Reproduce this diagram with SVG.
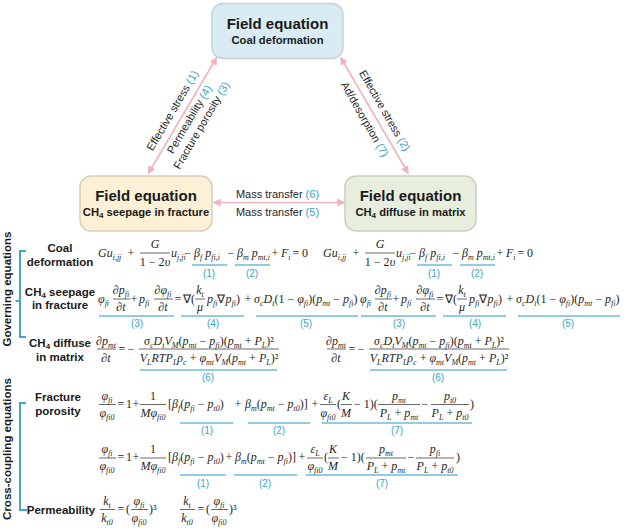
<svg xmlns="http://www.w3.org/2000/svg" width="624" height="529" viewBox="0 0 624 529">
<defs>
<style>
.nt{font-family:"Liberation Sans",Arial,sans-serif;font-weight:bold;fill:#1a1a1a;text-anchor:middle}
.t1{font-size:15px}
.t2{font-size:11.2px}
.lb{font-family:"Liberation Sans",Arial,sans-serif;font-size:11px;fill:#262626;text-anchor:middle}
.tl{fill:#3ba3c6}
.hd{font-family:"Liberation Sans",Arial,sans-serif;font-weight:bold;font-size:11.5px;fill:#1a1a1a;text-anchor:middle}
.vt{font-family:"Liberation Sans",Arial,sans-serif;font-weight:bold;font-size:11.5px;fill:#1a1a1a;text-anchor:middle}
.eq{font-family:"Liberation Serif","Times New Roman",serif;font-size:12px;font-style:italic;fill:#1f1f1f}
.c{text-anchor:middle}
.u{font-style:normal}
.sb{font-size:8px}
.bar{stroke:#2a2a2a;stroke-width:0.7}
.ul{stroke:#6cbcd8;stroke-width:1.3}
.num{font-family:"Liberation Sans",Arial,sans-serif;font-size:10px;fill:#3ba3c6;text-anchor:middle}
.con{stroke:#f2b3bd;stroke-width:1.6;fill:none;marker-start:url(#ah);marker-end:url(#ah)}
.brk{stroke:#45a6c8;stroke-width:2;fill:none}
</style>
<marker id="ah" viewBox="0 0 10 10" refX="9" refY="5" markerWidth="5" markerHeight="5" orient="auto-start-reverse"><path d="M0,0 L10,5 L0,10 z" fill="#f2b3bd"/></marker>
</defs>
<rect width="624" height="529" fill="#ffffff"/>

<g id="connectors">
<line class="con" x1="216.7" y1="57.5" x2="148.3" y2="173.5"/>
<line class="con" x1="340.7" y1="57.5" x2="408.3" y2="173.5"/>
<line class="con" x1="213.5" y1="202.5" x2="344.5" y2="202.5"/>
<g transform="translate(182.5,116.5) rotate(-59.5)">
<text class="lb" x="0" y="-8">Effective stress <tspan class="tl">(1)</tspan></text>
<text class="lb" x="1" y="11">Permeability <tspan class="tl">(4)</tspan></text>
<text class="lb" x="2" y="24.5">Fracture porosity <tspan class="tl">(3)</tspan></text>
</g>
<g transform="translate(374.5,116.5) rotate(60.2)">
<text class="lb" x="0" y="-8">Effective stress <tspan class="tl">(2)</tspan></text>
<text class="lb" x="-2.5" y="13.5">Ad/desorption <tspan class="tl">(7)</tspan></text>
</g>
<text class="lb" x="277.5" y="198">Mass transfer <tspan class="tl">(6)</tspan></text>
<text class="lb" x="277.5" y="216">Mass transfer <tspan class="tl">(5)</tspan></text>
</g>

<g id="node-coal">
<rect x="212" y="3.5" width="131" height="55" rx="11" fill="#d9ecf3" stroke="#c7d2d7" stroke-width="1.5"/>
<text class="nt t1" x="277.5" y="29">Field equation</text>
<text class="nt t2" x="277.5" y="44">Coal deformation</text>
</g>
<g id="node-fracture">
<rect x="80" y="176" width="132" height="55" rx="11" fill="#fcf1d6" stroke="#d8cfb8" stroke-width="1.5"/>
<text class="nt t1" x="146" y="201">Field equation</text>
<text class="nt t2" x="146" y="216">CH<tspan font-size="8px" dy="2">4</tspan><tspan dy="-2"> seepage in fracture</tspan></text>
</g>
<g id="node-matrix">
<rect x="345" y="176" width="131" height="55" rx="11" fill="#e8eedd" stroke="#c9cfc0" stroke-width="1.5"/>
<text class="nt t1" x="410.5" y="201">Field equation</text>
<text class="nt t2" x="410.5" y="216">CH<tspan font-size="8px" dy="2">4</tspan><tspan dy="-2"> diffuse in matrix</tspan></text>
</g>

<g id="side-labels">
<text class="vt" transform="translate(11,289) rotate(-90)">Governing equations</text>
<text class="vt" transform="translate(11,449) rotate(-90)">Cross-coupling equations</text>
<path class="brk" d="M26,251 H20 V337 H26 M15.5,301 H20"/>
<path class="brk" d="M26,403 H20 V510 H27"/>
<text class="hd" x="60" y="252">Coal</text>
<text class="hd" x="60" y="266">deformation</text>
<text class="hd" x="60" y="296">CH<tspan font-size="8px" dy="2">4</tspan><tspan dy="-2"> seepage</tspan></text>
<text class="hd" x="60" y="309">in fracture</text>
<text class="hd" x="60" y="347">CH<tspan font-size="8px" dy="2">4</tspan><tspan dy="-2"> diffuse</tspan></text>
<text class="hd" x="60" y="361">in matrix</text>
<text class="hd" x="58" y="401">Fracture</text>
<text class="hd" x="58" y="415">porosity</text>
<text class="hd" x="61" y="514">Permeability</text>
</g>

<g id="eq-coal">
<g id="eq1a">
<text class="eq" x="98" y="257">Gu<tspan class="sb" dy="3">i,jj</tspan></text>
<text class="eq u c" x="131" y="257">+</text>
<text class="eq c" x="155" y="248">G</text>
<line class="bar" x1="140" y1="253" x2="170" y2="253"/>
<text class="eq c" x="155" y="266"><tspan class="u">1 − 2</tspan>υ</text>
<text class="eq" x="171" y="257">u<tspan class="sb" dy="3">j,ji</tspan></text>
<text class="eq u c" x="188" y="257">−</text>
<text class="eq" x="194" y="257">β<tspan class="sb" dy="3">f</tspan><tspan dy="-3"> p</tspan><tspan class="sb" dy="3">fi,i</tspan></text>
<text class="eq u c" x="231" y="257">−</text>
<text class="eq" x="237" y="257">β<tspan class="sb" dy="3">m</tspan><tspan dy="-3"> p</tspan><tspan class="sb" dy="3">mt,i</tspan></text>
<text class="eq u c" x="275" y="257">+</text>
<text class="eq" x="281" y="257">F<tspan class="sb" dy="3">i</tspan></text>
<text class="eq u c" x="296" y="257">=</text>
<text class="eq u c" x="305" y="257">0</text>
<line class="ul" x1="192" y1="265" x2="227" y2="265"/>
<text class="num" x="209" y="277">(1)</text>
<line class="ul" x1="235" y1="265" x2="270" y2="265"/>
<text class="num" x="252" y="277">(2)</text>
</g>
<g id="eq1b" transform="translate(225,0)">
<text class="eq" x="98" y="257">Gu<tspan class="sb" dy="3">i,jj</tspan></text>
<text class="eq u c" x="131" y="257">+</text>
<text class="eq c" x="155" y="248">G</text>
<line class="bar" x1="140" y1="253" x2="170" y2="253"/>
<text class="eq c" x="155" y="266"><tspan class="u">1 − 2</tspan>υ</text>
<text class="eq" x="171" y="257">u<tspan class="sb" dy="3">j,ji</tspan></text>
<text class="eq u c" x="188" y="257">−</text>
<text class="eq" x="194" y="257">β<tspan class="sb" dy="3">f</tspan><tspan dy="-3"> p</tspan><tspan class="sb" dy="3">fi,i</tspan></text>
<text class="eq u c" x="231" y="257">−</text>
<text class="eq" x="237" y="257">β<tspan class="sb" dy="3">m</tspan><tspan dy="-3"> p</tspan><tspan class="sb" dy="3">mt,i</tspan></text>
<text class="eq u c" x="275" y="257">+</text>
<text class="eq" x="281" y="257">F<tspan class="sb" dy="3">i</tspan></text>
<text class="eq u c" x="296" y="257">=</text>
<text class="eq u c" x="305" y="257">0</text>
<line class="ul" x1="192" y1="265" x2="227" y2="265"/>
<text class="num" x="209" y="277">(1)</text>
<line class="ul" x1="235" y1="265" x2="270" y2="265"/>
<text class="num" x="252" y="277">(2)</text>
</g>
</g>

<g id="eq-seepage">
<g id="eq2a">
<text class="eq" x="98" y="303">φ<tspan class="sb" dy="3">fi</tspan></text>
<text class="eq c" x="121" y="294">∂p<tspan class="sb" dy="3">fi</tspan></text>
<line class="bar" x1="113" y1="299" x2="130" y2="299"/>
<text class="eq c" x="121" y="311">∂t</text>
<text class="eq u c" x="134" y="303">+</text>
<text class="eq" x="139" y="303">p<tspan class="sb" dy="3">fi</tspan></text>
<text class="eq c" x="163" y="294">∂φ<tspan class="sb" dy="3">fi</tspan></text>
<line class="bar" x1="154" y1="299" x2="173" y2="299"/>
<text class="eq c" x="163" y="311">∂t</text>
<text class="eq u c" x="178" y="303">=</text>
<text class="eq u" x="183" y="303">∇(</text>
<text class="eq c" x="200" y="294">k<tspan class="sb" dy="3">t</tspan></text>
<line class="bar" x1="195" y1="299" x2="205" y2="299"/>
<text class="eq c" x="200" y="311">μ</text>
<text class="eq" x="207" y="303">p<tspan class="sb" dy="3">fi</tspan><tspan class="u" dy="-3">∇</tspan>p<tspan class="sb" dy="3">fi</tspan><tspan class="u" dy="-3">)</tspan></text>
<text class="eq u c" x="248" y="303">+</text>
<text class="eq" x="254" y="303">σ<tspan class="sb" dy="3">c</tspan><tspan dy="-3">D</tspan><tspan class="sb" dy="3">t</tspan><tspan class="u" dy="-3">(1 − </tspan>φ<tspan class="sb" dy="3">fi</tspan><tspan class="u" dy="-3">)(</tspan>p<tspan class="sb" dy="3">mt</tspan><tspan class="u" dy="-3"> − </tspan>p<tspan class="sb" dy="3">fi</tspan><tspan class="u" dy="-3">)</tspan></text>
<line class="ul" x1="99" y1="316" x2="174" y2="316"/>
<text class="num" x="137" y="327">(3)</text>
<line class="ul" x1="181" y1="316" x2="244" y2="316"/>
<text class="num" x="213" y="327">(4)</text>
<line class="ul" x1="256" y1="316" x2="358" y2="316"/>
<text class="num" x="306" y="327">(5)</text>
</g>
<g id="eq2b" transform="translate(262,0)">
<text class="eq" x="98" y="303">φ<tspan class="sb" dy="3">fi</tspan></text>
<text class="eq c" x="121" y="294">∂p<tspan class="sb" dy="3">fi</tspan></text>
<line class="bar" x1="113" y1="299" x2="130" y2="299"/>
<text class="eq c" x="121" y="311">∂t</text>
<text class="eq u c" x="134" y="303">+</text>
<text class="eq" x="139" y="303">p<tspan class="sb" dy="3">fi</tspan></text>
<text class="eq c" x="163" y="294">∂φ<tspan class="sb" dy="3">fi</tspan></text>
<line class="bar" x1="154" y1="299" x2="173" y2="299"/>
<text class="eq c" x="163" y="311">∂t</text>
<text class="eq u c" x="178" y="303">=</text>
<text class="eq u" x="183" y="303">∇(</text>
<text class="eq c" x="200" y="294">k<tspan class="sb" dy="3">t</tspan></text>
<line class="bar" x1="195" y1="299" x2="205" y2="299"/>
<text class="eq c" x="200" y="311">μ</text>
<text class="eq" x="207" y="303">p<tspan class="sb" dy="3">fi</tspan><tspan class="u" dy="-3">∇</tspan>p<tspan class="sb" dy="3">fi</tspan><tspan class="u" dy="-3">)</tspan></text>
<text class="eq u c" x="248" y="303">+</text>
<text class="eq" x="254" y="303">σ<tspan class="sb" dy="3">c</tspan><tspan dy="-3">D</tspan><tspan class="sb" dy="3">t</tspan><tspan class="u" dy="-3">(1 − </tspan>φ<tspan class="sb" dy="3">fi</tspan><tspan class="u" dy="-3">)(</tspan>p<tspan class="sb" dy="3">mt</tspan><tspan class="u" dy="-3"> − </tspan>p<tspan class="sb" dy="3">fi</tspan><tspan class="u" dy="-3">)</tspan></text>
<line class="ul" x1="99" y1="316" x2="174" y2="316"/>
<text class="num" x="137" y="327">(3)</text>
<line class="ul" x1="181" y1="316" x2="244" y2="316"/>
<text class="num" x="213" y="327">(4)</text>
<line class="ul" x1="256" y1="316" x2="358" y2="316"/>
<text class="num" x="306" y="327">(5)</text>
</g>
</g>

<g id="eq-diffuse">
<g id="eq3a">
<text class="eq c" x="106" y="345">∂p<tspan class="sb" dy="3">mt</tspan></text>
<line class="bar" x1="97" y1="349" x2="116" y2="349"/>
<text class="eq c" x="106" y="362">∂t</text>
<text class="eq u c" x="122" y="353">=</text>
<text class="eq u c" x="131" y="353">−</text>
<text class="eq c" x="209" y="345">σ<tspan class="sb" dy="3">c</tspan><tspan dy="-3">D</tspan><tspan class="sb" dy="3">t</tspan><tspan dy="-3">V</tspan><tspan class="sb" dy="3">M</tspan><tspan class="u" dy="-3">(</tspan>p<tspan class="sb" dy="3">mt</tspan><tspan class="u" dy="-3"> − </tspan>p<tspan class="sb" dy="3">fi</tspan><tspan class="u" dy="-3">)(</tspan>p<tspan class="sb" dy="3">mt</tspan><tspan class="u" dy="-3"> + </tspan>P<tspan class="sb" dy="3">L</tspan><tspan class="u" dy="-3">)²</tspan></text>
<line class="bar" x1="139" y1="349" x2="279" y2="349"/>
<text class="eq c" x="209" y="362">V<tspan class="sb" dy="3">L</tspan><tspan dy="-3">RTP</tspan><tspan class="sb" dy="3">L</tspan><tspan dy="-3">ρ</tspan><tspan class="sb" dy="3">c</tspan><tspan class="u" dy="-3"> + </tspan>φ<tspan class="sb" dy="3">mt</tspan><tspan dy="-3">V</tspan><tspan class="sb" dy="3">M</tspan><tspan class="u" dy="-3">(</tspan>p<tspan class="sb" dy="3">mt</tspan><tspan class="u" dy="-3"> + </tspan>P<tspan class="sb" dy="3">L</tspan><tspan class="u" dy="-3">)²</tspan></text>
<line class="ul" x1="140" y1="370" x2="277" y2="370"/>
<text class="num" x="208" y="381">(6)</text>
</g>
<g id="eq3b" transform="translate(230,0)">
<text class="eq c" x="106" y="345">∂p<tspan class="sb" dy="3">mt</tspan></text>
<line class="bar" x1="97" y1="349" x2="116" y2="349"/>
<text class="eq c" x="106" y="362">∂t</text>
<text class="eq u c" x="122" y="353">=</text>
<text class="eq u c" x="131" y="353">−</text>
<text class="eq c" x="209" y="345">σ<tspan class="sb" dy="3">c</tspan><tspan dy="-3">D</tspan><tspan class="sb" dy="3">t</tspan><tspan dy="-3">V</tspan><tspan class="sb" dy="3">M</tspan><tspan class="u" dy="-3">(</tspan>p<tspan class="sb" dy="3">mt</tspan><tspan class="u" dy="-3"> − </tspan>p<tspan class="sb" dy="3">fi</tspan><tspan class="u" dy="-3">)(</tspan>p<tspan class="sb" dy="3">mt</tspan><tspan class="u" dy="-3"> + </tspan>P<tspan class="sb" dy="3">L</tspan><tspan class="u" dy="-3">)²</tspan></text>
<line class="bar" x1="139" y1="349" x2="279" y2="349"/>
<text class="eq c" x="209" y="362">V<tspan class="sb" dy="3">L</tspan><tspan dy="-3">RTP</tspan><tspan class="sb" dy="3">L</tspan><tspan dy="-3">ρ</tspan><tspan class="sb" dy="3">c</tspan><tspan class="u" dy="-3"> + </tspan>φ<tspan class="sb" dy="3">mt</tspan><tspan dy="-3">V</tspan><tspan class="sb" dy="3">M</tspan><tspan class="u" dy="-3">(</tspan>p<tspan class="sb" dy="3">mt</tspan><tspan class="u" dy="-3"> + </tspan>P<tspan class="sb" dy="3">L</tspan><tspan class="u" dy="-3">)²</tspan></text>
<line class="ul" x1="140" y1="370" x2="277" y2="370"/>
<text class="num" x="208" y="381">(6)</text>
</g>
</g>

<g id="eq-porosity">
<g id="eq4">
<text class="eq c" x="107" y="400">φ<tspan class="sb" dy="3">fi</tspan></text>
<line class="bar" x1="99" y1="404.5" x2="116" y2="404.5"/>
<text class="eq c" x="107" y="417">φ<tspan class="sb" dy="3">fi0</tspan></text>
<text class="eq u c" x="121" y="408">=</text>
<text class="eq u c" x="129" y="408">1</text>
<text class="eq u c" x="136" y="408">+</text>
<text class="eq u c" x="153" y="400">1</text>
<line class="bar" x1="140" y1="404.5" x2="166" y2="404.5"/>
<text class="eq c" x="153" y="417">Mφ<tspan class="sb" dy="3">fi0</tspan></text>
<text class="eq" x="168" y="408"><tspan class="u">[</tspan>β<tspan class="sb" dy="3">f</tspan><tspan class="u" dy="-3">(</tspan>p<tspan class="sb" dy="3">fi</tspan><tspan class="u" dy="-3"> − </tspan>p<tspan class="sb" dy="3">t0</tspan><tspan class="u" dy="-3">)</tspan></text>
<text class="eq u c" x="238" y="408">+</text>
<text class="eq" x="245" y="408">β<tspan class="sb" dy="3">m</tspan><tspan class="u" dy="-3">(</tspan>p<tspan class="sb" dy="3">mt</tspan><tspan class="u" dy="-3"> − </tspan>p<tspan class="sb" dy="3">t0</tspan><tspan class="u" dy="-3">)]</tspan></text>
<text class="eq u c" x="315" y="408">+</text>
<text class="eq c" x="328" y="400">ε<tspan class="sb" dy="3">L</tspan></text>
<line class="bar" x1="320" y1="404.5" x2="336" y2="404.5"/>
<text class="eq c" x="328" y="417">φ<tspan class="sb" dy="3">fi0</tspan></text>
<text class="eq u" x="337" y="408">(</text>
<text class="eq c" x="346" y="400">K</text>
<line class="bar" x1="341" y1="404.5" x2="352" y2="404.5"/>
<text class="eq c" x="346" y="417">M</text>
<text class="eq u" x="354" y="408"> − 1)(</text>
<text class="eq c" x="399" y="400">p<tspan class="sb" dy="3">mt</tspan></text>
<line class="bar" x1="378" y1="404.5" x2="420" y2="404.5"/>
<text class="eq c" x="399" y="417">P<tspan class="sb" dy="3">L</tspan><tspan class="u" dy="-3"> + </tspan>p<tspan class="sb" dy="3">mt</tspan></text>
<text class="eq u c" x="425" y="408">−</text>
<text class="eq c" x="450" y="400">p<tspan class="sb" dy="3">t0</tspan></text>
<line class="bar" x1="431" y1="404.5" x2="469" y2="404.5"/>
<text class="eq c" x="450" y="417">P<tspan class="sb" dy="3">L</tspan><tspan class="u" dy="-3"> + </tspan>p<tspan class="sb" dy="3">t0</tspan></text>
<text class="eq u" x="470" y="408">)</text>
<line class="ul" x1="180" y1="423" x2="233" y2="423"/>
<text class="num" x="207" y="434">(1)</text>
<line class="ul" x1="248" y1="423" x2="310" y2="423"/>
<text class="num" x="279" y="434">(2)</text>
<line class="ul" x1="322" y1="423" x2="472" y2="423"/>
<text class="num" x="397" y="434">(7)</text>
</g>
<g id="eq5">
<text class="eq c" x="107" y="453">φ<tspan class="sb" dy="3">fi</tspan></text>
<line class="bar" x1="99" y1="458" x2="116" y2="458"/>
<text class="eq c" x="107" y="470">φ<tspan class="sb" dy="3">fi0</tspan></text>
<text class="eq u c" x="121" y="461">=</text>
<text class="eq u c" x="129" y="461">1</text>
<text class="eq u c" x="136" y="461">+</text>
<text class="eq u c" x="153" y="453">1</text>
<line class="bar" x1="140" y1="458" x2="166" y2="458"/>
<text class="eq c" x="153" y="470">Mφ<tspan class="sb" dy="3">fi0</tspan></text>
<text class="eq" x="168" y="461"><tspan class="u">[</tspan>β<tspan class="sb" dy="3">f</tspan><tspan class="u" dy="-3">(</tspan>p<tspan class="sb" dy="3">fi</tspan><tspan class="u" dy="-3"> − </tspan>p<tspan class="sb" dy="3">t0</tspan><tspan class="u" dy="-3">)</tspan></text>
<text class="eq u c" x="229" y="461">+</text>
<text class="eq" x="235" y="461">β<tspan class="sb" dy="3">m</tspan><tspan class="u" dy="-3">(</tspan>p<tspan class="sb" dy="3">mt</tspan><tspan class="u" dy="-3"> − </tspan>p<tspan class="sb" dy="3">fi</tspan><tspan class="u" dy="-3">)]</tspan></text>
<text class="eq u c" x="302" y="461">+</text>
<text class="eq c" x="315" y="453">ε<tspan class="sb" dy="3">L</tspan></text>
<line class="bar" x1="307" y1="458" x2="323" y2="458"/>
<text class="eq c" x="315" y="470">φ<tspan class="sb" dy="3">fi0</tspan></text>
<text class="eq u" x="324" y="461">(</text>
<text class="eq c" x="333" y="453">K</text>
<line class="bar" x1="328" y1="458" x2="339" y2="458"/>
<text class="eq c" x="333" y="470">M</text>
<text class="eq u" x="341" y="461"> − 1)(</text>
<text class="eq c" x="386" y="453">p<tspan class="sb" dy="3">mt</tspan></text>
<line class="bar" x1="366" y1="458" x2="406" y2="458"/>
<text class="eq c" x="386" y="470">P<tspan class="sb" dy="3">L</tspan><tspan class="u" dy="-3"> + </tspan>p<tspan class="sb" dy="3">mt</tspan></text>
<text class="eq u c" x="411" y="461">−</text>
<text class="eq c" x="435" y="453">p<tspan class="sb" dy="3">fi</tspan></text>
<line class="bar" x1="416" y1="458" x2="454" y2="458"/>
<text class="eq c" x="435" y="470">P<tspan class="sb" dy="3">L</tspan><tspan class="u" dy="-3"> + </tspan>p<tspan class="sb" dy="3">t0</tspan></text>
<text class="eq u" x="456" y="461">)</text>
<line class="ul" x1="180" y1="475" x2="226" y2="475"/>
<text class="num" x="203" y="487">(1)</text>
<line class="ul" x1="234" y1="475" x2="297" y2="475"/>
<text class="num" x="265" y="487">(2)</text>
<line class="ul" x1="306" y1="475" x2="458" y2="475"/>
<text class="num" x="382" y="487">(7)</text>
</g>
</g>

<g id="eq-permeability">
<g id="eq6a">
<text class="eq c" x="107" y="505">k<tspan class="sb" dy="3">t</tspan></text>
<line class="bar" x1="100" y1="509.5" x2="115" y2="509.5"/>
<text class="eq c" x="107" y="522">k<tspan class="sb" dy="3">t0</tspan></text>
<text class="eq u c" x="121" y="513">=</text>
<text class="eq u" x="126" y="513">(</text>
<text class="eq c" x="139" y="505">φ<tspan class="sb" dy="3">fi</tspan></text>
<line class="bar" x1="131" y1="509.5" x2="148" y2="509.5"/>
<text class="eq c" x="139" y="522">φ<tspan class="sb" dy="3">fi0</tspan></text>
<text class="eq u" x="149" y="513">)³</text>
</g>
<g id="eq6b" transform="translate(80,0)">
<text class="eq c" x="107" y="505">k<tspan class="sb" dy="3">t</tspan></text>
<line class="bar" x1="100" y1="509.5" x2="115" y2="509.5"/>
<text class="eq c" x="107" y="522">k<tspan class="sb" dy="3">t0</tspan></text>
<text class="eq u c" x="121" y="513">=</text>
<text class="eq u" x="126" y="513">(</text>
<text class="eq c" x="139" y="505">φ<tspan class="sb" dy="3">fi</tspan></text>
<line class="bar" x1="131" y1="509.5" x2="148" y2="509.5"/>
<text class="eq c" x="139" y="522">φ<tspan class="sb" dy="3">fi0</tspan></text>
<text class="eq u" x="149" y="513">)³</text>
</g>
</g>
</svg>
